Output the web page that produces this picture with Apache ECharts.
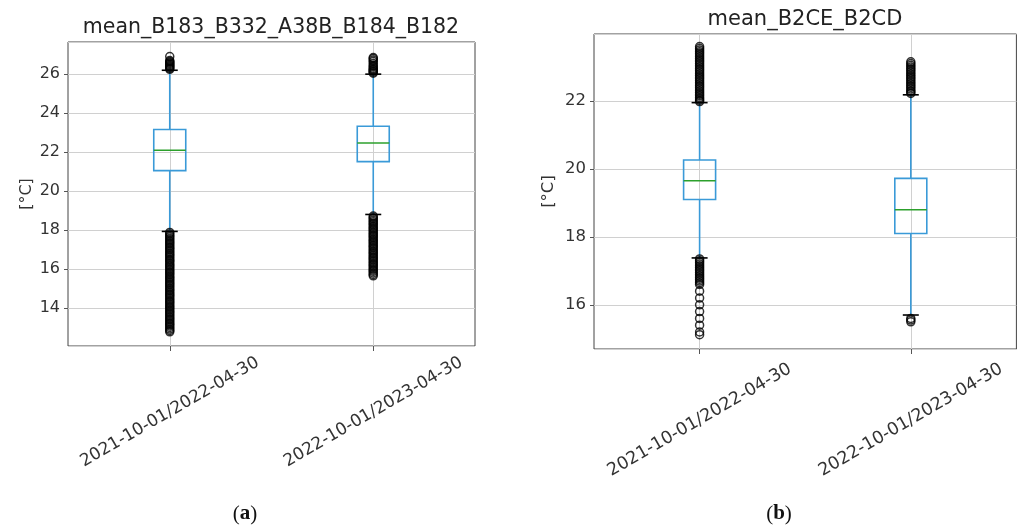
<!DOCTYPE html>
<html><head><meta charset="utf-8">
<script src="https://cdn.jsdelivr.net/npm/echarts@6/dist/echarts.min.js"></script>
<style>html,body{margin:0;padding:0;background:#fff}#c{width:1019px;height:527px}</style>
</head><body><div id="c"></div>
<script>
const categories = ['2021-10-01/2022-04-30', '2022-10-01/2023-04-30'];
const titleA = 'mean_B183_B332_A38B_B184_B182';
const titleB = 'mean_B2CE_B2CD';
const yName = '[°C]';
// [whiskerLow, Q1, median, Q3, whiskerHigh]
const boxesA = [[17.93, 21.05, 22.1, 23.16, 26.2], [18.8, 21.51, 22.47, 23.33, 26.0]];
const boxesB = [[17.38, 19.1, 19.65, 20.26, 21.95], [15.7, 18.1, 18.8, 19.72, 22.18]];
const outliersA1 = [26.25,26.3,26.35,26.4,26.45,26.5,26.55,26.6,26.65,26.7,26.9,
  17.88,17.8,17.72,17.65,17.58,17.5,17.42,17.35,17.28,17.2,17.12,17.05,16.98,16.9,16.82,16.75,16.68,16.6,16.52,16.45,16.38,16.3,16.22,16.15,16.08,16.0,15.92,15.85,15.78,15.7,15.62,15.55,15.48,15.4,15.32,15.25,15.18,15.1,15.02,14.95,14.88,14.8,14.72,14.65,14.58,14.5,14.42,14.35,14.28,14.2,14.12,14.05,13.98,13.9,13.82,13.75,13.68,13.6,13.52,13.45,13.38,13.3,13.22,13.15,13.08,13.0,12.92,12.85,12.78];
const outliersA2 = [26.05,26.1,26.15,26.2,26.25,26.3,26.38,26.45,26.55,26.65,26.72,26.8,26.85,
  18.72,18.65,18.58,18.5,18.42,18.35,18.28,18.2,18.12,18.05,17.98,17.9,17.82,17.75,17.68,17.6,17.52,17.45,17.38,17.3,17.22,17.15,17.08,17.0,16.92,16.85,16.78,16.7,16.62,16.55,16.48,16.4,16.32,16.25,16.18,16.1,16.02,15.95,15.88,15.8,15.72,15.65];
const outliersB1 = [21.98,22.02,22.06,22.1,22.15,22.2,22.25,22.3,22.35,22.4,22.45,22.5,22.55,22.6,22.65,22.7,22.75,22.8,22.85,22.9,22.95,23.0,23.05,23.1,23.15,23.2,23.25,23.3,23.35,23.4,23.45,23.5,23.55,23.6,
  17.35,17.3,17.25,17.2,17.15,17.1,17.05,17.0,16.95,16.9,16.85,16.8,16.75,16.7,16.65,16.6,16.4,16.2,16.0,15.8,15.6,15.4,15.2,15.12];
const outliersB2 = [22.22,22.26,22.3,22.35,22.4,22.45,22.5,22.55,22.6,22.65,22.7,22.75,22.8,22.85,22.9,22.95,23.0,23.05,23.1,23.15,
  15.6,15.55,15.5];

const BLUE = '#3a9ad8', GREEN = '#2ca02c';
const FONT = 'DejaVu Sans';
const axisCats = ['', categories[0], '', categories[1], ''];
const catPos = [1, 3];
const showAt = (i) => i === 1 || i === 3;

function renderBox(params, api) {
  const x = api.value(0);
  const lo = api.coord([x, api.value(1)]);
  const q1 = api.coord([x, api.value(2)]);
  const md = api.coord([x, api.value(3)]);
  const q3 = api.coord([x, api.value(4)]);
  const hi = api.coord([x, api.value(5)]);
  const cx = lo[0], bw = 32, cw = 16;
  const ls = {stroke: BLUE, lineWidth: 1.6, fill: null};
  return {type: 'group', children: [
    {type: 'line', shape: {x1: cx, y1: hi[1], x2: cx, y2: q3[1]}, style: ls},
    {type: 'line', shape: {x1: cx, y1: q1[1], x2: cx, y2: lo[1]}, style: ls},
    {type: 'rect', shape: {x: cx - bw / 2, y: q3[1], width: bw, height: q1[1] - q3[1]}, style: {stroke: BLUE, lineWidth: 1.6, fill: 'rgba(0,0,0,0)'}},
    {type: 'line', shape: {x1: cx - bw / 2, y1: md[1], x2: cx + bw / 2, y2: md[1]}, style: {stroke: GREEN, lineWidth: 1.5}},
    {type: 'line', shape: {x1: cx - cw / 2, y1: hi[1], x2: cx + cw / 2, y2: hi[1]}, style: {stroke: '#000', lineWidth: 1.6}},
    {type: 'line', shape: {x1: cx - cw / 2, y1: lo[1], x2: cx + cw / 2, y2: lo[1]}, style: {stroke: '#000', lineWidth: 1.6}}
  ]};
}

function boxSeries(boxes, idx) {
  return {type: 'custom', xAxisIndex: idx, yAxisIndex: idx, renderItem: renderBox,
    encode: {x: 0, y: [1, 2, 3, 4, 5]},
    data: boxes.map((b, i) => [catPos[i], ...b]), z: 3};
}
function outSeries(vals, ci, idx) {
  return {type: 'scatter', xAxisIndex: idx, yAxisIndex: idx, symbol: 'circle', symbolSize: 8,
    itemStyle: {color: 'rgba(0,0,0,0)', borderColor: '#000', borderWidth: 1.5},
    data: vals.map(v => [catPos[ci], v]), z: 4};
}
function xAxis(idx, margin, fs) {
  return {type: 'category', gridIndex: idx, data: axisCats, boundaryGap: false,
    axisLine: {show: false},
    axisTick: {show: true, interval: showAt, length: 5, lineStyle: {color: '#555'}},
    splitLine: {show: true, interval: showAt, lineStyle: {color: '#d0d0d0', width: 1}},
    axisLabel: {interval: 0, rotate: 30, align: 'center', verticalAlign: 'middle', margin: margin,
      fontFamily: FONT, fontSize: fs, color: '#333'}};
}
function yAxis(idx, min, max, split, gap, fs) {
  return {type: 'value', gridIndex: idx, min: min, max: max, splitNumber: split,
    name: yName, nameLocation: 'middle', nameGap: gap,
    nameTextStyle: {fontFamily: FONT, fontSize: fs, color: '#333'},
    axisLine: {show: false},
    axisTick: {show: true, length: 4, lineStyle: {color: '#555'}},
    splitLine: {show: true, lineStyle: {color: '#d0d0d0', width: 1}},
    axisLabel: {fontFamily: FONT, fontSize: fs, color: '#333', margin: 8, showMinLabel: false, showMaxLabel: false,
      formatter: v => (Math.abs(v - Math.round(v)) < 1e-6 ? String(Math.round(v)) : '')}};
}

const capRich = {p: {fontFamily: 'Liberation Serif', fontSize: 21, fill: '#111'}, b: {fontFamily: 'Liberation Serif', fontSize: 21, fontWeight: 'bold', fill: '#111'}};
const chart = echarts.init(document.getElementById('c'));
chart.setOption({
  animation: false,
  backgroundColor: '#fff',
  grid: [
    {left: 68, top: 42, width: 407, height: 304, show: true, borderColor: '#444', borderWidth: 1, backgroundColor: 'rgba(0,0,0,0)'},
    {left: 594, top: 34, width: 423, height: 315, show: true, borderColor: '#444', borderWidth: 1, backgroundColor: 'rgba(0,0,0,0)'}
  ],
  xAxis: [xAxis(0, 66, 17), xAxis(1, 71, 17.5)],
  yAxis: [yAxis(0, 12.05, 27.65, 8, 33, 16), yAxis(1, 14.7, 23.97, 5, 37, 16.5)],
  series: [boxSeries(boxesA, 0), outSeries(outliersA1, 0, 0), outSeries(outliersA2, 1, 0),
           boxSeries(boxesB, 1), outSeries(outliersB1, 0, 1), outSeries(outliersB2, 1, 1)],
  graphic: [
    {type: 'text', x: 271, y: 28, style: {text: titleA, font: '20.5px "DejaVu Sans"', fill: '#222', align: 'center', verticalAlign: 'middle'}},
    {type: 'text', x: 805, y: 20, style: {text: titleB, font: '21px "DejaVu Sans"', fill: '#222', align: 'center', verticalAlign: 'middle'}},
    {type: 'text', x: 245, y: 514, style: {text: '{p|(}{b|a}{p|)}', align: 'center', verticalAlign: 'middle', rich: capRich}},
    {type: 'text', x: 779, y: 514, style: {text: '{p|(}{b|b}{p|)}', align: 'center', verticalAlign: 'middle', rich: capRich}}
  ]
});
</script></body></html>
